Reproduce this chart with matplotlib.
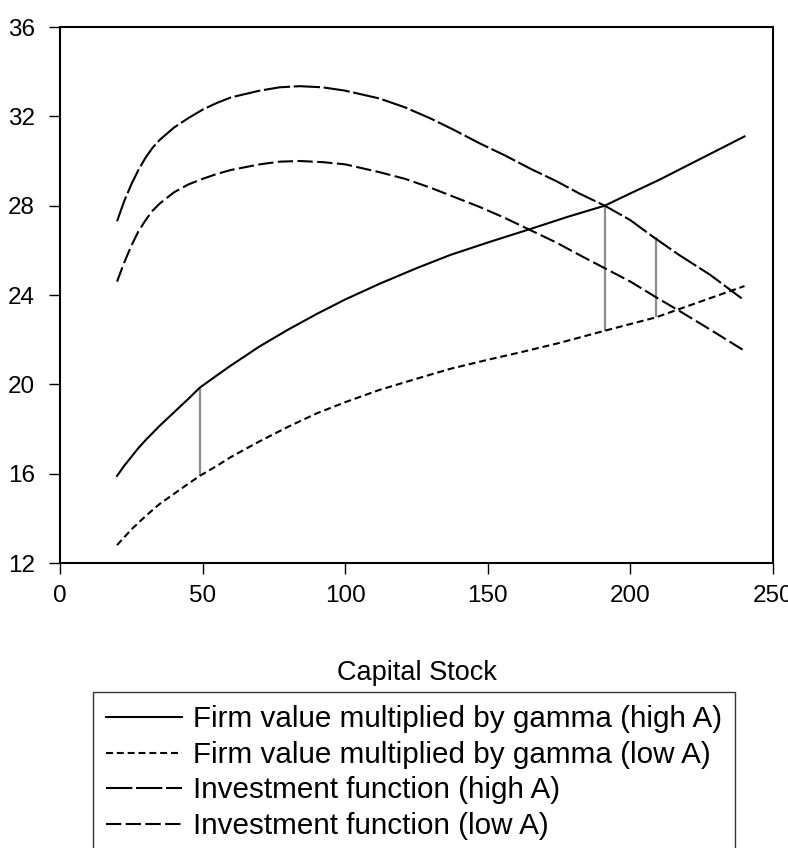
import matplotlib
matplotlib.use("Agg")
import matplotlib.pyplot as plt

plt.rcParams["font.family"] = ["Liberation Sans", "DejaVu Sans"]
plt.rcParams["lines.scale_dashes"] = False

# capital stock grid points
k_firm_high = [20, 22.5, 25, 27.5, 30, 35, 40, 45, 49, 55, 60, 70, 80, 90, 100, 112, 125, 137, 150,
               166, 178, 191, 200, 210, 220, 230, 240]
firm_high = [15.9, 16.35, 16.75, 17.15, 17.5, 18.15, 18.75, 19.35, 19.85, 20.4, 20.85, 21.7, 22.45, 23.15,
             23.8, 24.5, 25.2, 25.8, 26.35, 27.0, 27.5, 28.0, 28.55, 29.15, 29.8, 30.45, 31.1]

k_firm_low = [20, 22.5, 25, 27.5, 30, 35, 40, 45, 49, 55, 60, 70, 80, 90, 100, 112, 125, 137, 150,
              162, 175, 191, 200, 209, 220, 230, 240]
firm_low = [12.8, 13.15, 13.5, 13.8, 14.1, 14.65, 15.1, 15.55, 15.9, 16.35, 16.75, 17.45, 18.1, 18.7,
            19.2, 19.75, 20.25, 20.7, 21.1, 21.45, 21.85, 22.4, 22.7, 23.0, 23.5, 23.95, 24.4]

k_inv_high = [20, 22.5, 25, 27.5, 30, 32.5, 35, 40, 45, 50, 55, 60, 70, 77, 84, 92, 100, 112, 121, 130, 138,
              147, 156, 165, 174, 182, 191, 200, 208, 217, 228, 239]
inv_high = [27.3, 28.2, 28.95, 29.6, 30.15, 30.6, 30.95, 31.5, 31.92, 32.3, 32.6, 32.85, 33.15, 33.3, 33.35,
            33.3, 33.15, 32.8, 32.4, 31.9, 31.4, 30.8, 30.25, 29.65, 29.1, 28.55, 28.0, 27.35, 26.6, 25.8,
            24.9, 23.85]

k_inv_low = [20, 22.5, 25, 27.5, 30, 32.5, 35, 40, 45, 50, 55, 60, 70, 77, 84, 92, 100, 112, 121, 130, 138,
             147, 156, 165, 174, 182, 191, 200, 209, 217, 228, 240]
inv_low = [24.6, 25.45, 26.2, 26.85, 27.35, 27.78, 28.1, 28.6, 28.95, 29.2, 29.42, 29.6, 29.85, 29.97, 30.0,
           29.95, 29.85, 29.5, 29.2, 28.8, 28.4, 27.95, 27.45, 26.9, 26.35, 25.8, 25.2, 24.6, 23.9, 23.3,
           22.45, 21.5]

# gray connectors between curves
drop_x = [49, 191, 209]
drop_bottom = [15.9, 22.4, 23.0]
drop_top = [19.85, 28.0, 26.6]

labels = [
    "Firm value multiplied by gamma (high A)",
    "Firm value multiplied by gamma (low A)",
    "Investment function (high A)",
    "Investment function (low A)",
]

fig = plt.figure(figsize=(7.88, 8.48), dpi=100)
ax = fig.add_axes([60 / 788, 1 - 563 / 848, 713 / 788, 536 / 848])

lw = 1.5
ax.vlines(drop_x, drop_bottom, drop_top, color="#8c8c8c", linewidth=1.6, zorder=1)
l1, = ax.plot(k_firm_high, firm_high, color="black", linewidth=lw, linestyle="-")
l2, = ax.plot(k_firm_low, firm_low, color="black", linewidth=lw, linestyle=(0, (5, 2.8)))
l3, = ax.plot(k_inv_high, inv_high, color="black", linewidth=lw, linestyle=(0, (19, 2.6)))
l4, = ax.plot(k_inv_low, inv_low, color="black", linewidth=lw, linestyle=(0, (11, 3.2)))

ax.set_xlim(0, 250)
ax.set_ylim(12, 36)
ax.set_xticks([0, 50, 100, 150, 200, 250])
ax.set_yticks([12, 16, 20, 24, 28, 32, 36])
for s in ax.spines.values():
    s.set_linewidth(1.5)
ax.tick_params(direction="out", length=8, width=1, labelsize=17.5, pad=8)
ax.tick_params(axis="y", pad=10)
ax.set_xlabel("Capital Stock", fontsize=19.5, labelpad=38)

leg = fig.legend([l1, l2, l3, l4], labels, loc="upper left",
                 bbox_to_anchor=(93 / 788, 1 - 692 / 848), bbox_transform=fig.transFigure,
                 fontsize=21.3, frameon=True, fancybox=False, edgecolor="black",
                 borderpad=0.45, borderaxespad=0, handlelength=2.55, handletextpad=0.37,
                 labelspacing=0.255)
leg.get_frame().set_linewidth(1.0)

fig.savefig("out.png", dpi=100)
